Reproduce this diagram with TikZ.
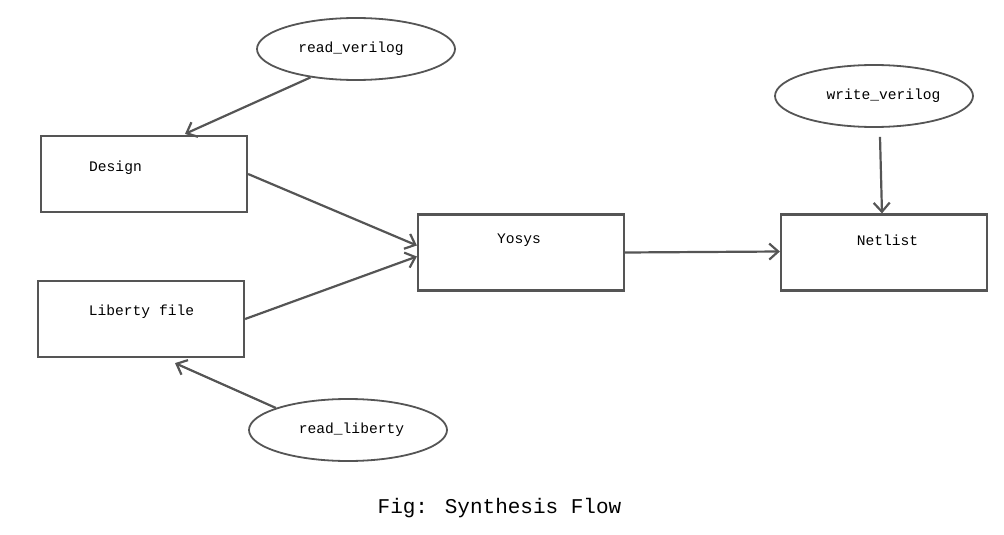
\documentclass[tikz,border=0pt]{standalone}
\usepackage{fontspec}
\setmainfont{Liberation Mono}
\usepackage{tikz}
\usetikzlibrary{shapes.geometric,arrows.meta}
\definecolor{flowgray}{HTML}{555555}

\begin{document}
\begin{tikzpicture}[x=1pt,y=-1pt,
  blk/.style={draw=flowgray, line width=2.2pt, rectangle, minimum width=206pt, minimum height=76pt, inner sep=0pt},
  cmd/.style={draw=flowgray, line width=1.8pt, ellipse, minimum width=198pt, minimum height=62pt, inner sep=0pt, font=\fontsize{14.6}{17}\selectfont},
  txt/.style={font=\fontsize{14.6}{17}\selectfont, inner sep=0pt},
  flow/.style={draw=flowgray, line width=2.2pt, -{Straight Barb[length=9pt,width=16pt]}}]
 \useasboundingbox (0,0) rectangle (1004,535);
 % boxes
 \node[blk] (design) at (144,174) {};
 \node[blk] (liberty) at (141,319) {};
 \node[blk] (yosys) at (521,252.5) {};
 \node[blk] (netlist) at (884,252.5) {};
 \node[txt] (design-t) at (115.5,168) {Design};
 \node[txt] (liberty-t) at (141.5,312) {Liberty file};
 \node[txt] (yosys-t) at (519,240) {Yosys};
 \node[txt] (netlist-t) at (887.5,240) {Netlist};
 % commands
 \node[cmd] (rv) at (356,49) {\hspace{-10pt}read\_verilog};
 \node[cmd] (wv) at (874,96) {\hspace{19pt}write\_verilog};
 \node[cmd] (rl) at (348,430) {\hspace{7pt}read\_liberty};
 \node[font=\fontsize{21}{25}\selectfont, inner sep=0pt] (caption) at (499.5,508) {Fig: Synthesis Flow};
 \path
  (rv.212) edge[flow] ([xshift=41pt,yshift=1pt]design.north)
  (design.east) edge[flow] ([yshift=7pt]yosys.west)
  (liberty.east) edge[flow] ([yshift=-4pt]yosys.west)
  (rl.163) edge[flow] ([xshift=34pt,yshift=-5pt]liberty.south)
  (yosys.east) edge[flow] ([yshift=1pt]netlist.west)
  ([xshift=6pt,yshift=-9pt]wv.south) edge[flow] ([xshift=-2pt]netlist.north)
 ;
\end{tikzpicture}
\end{document}
